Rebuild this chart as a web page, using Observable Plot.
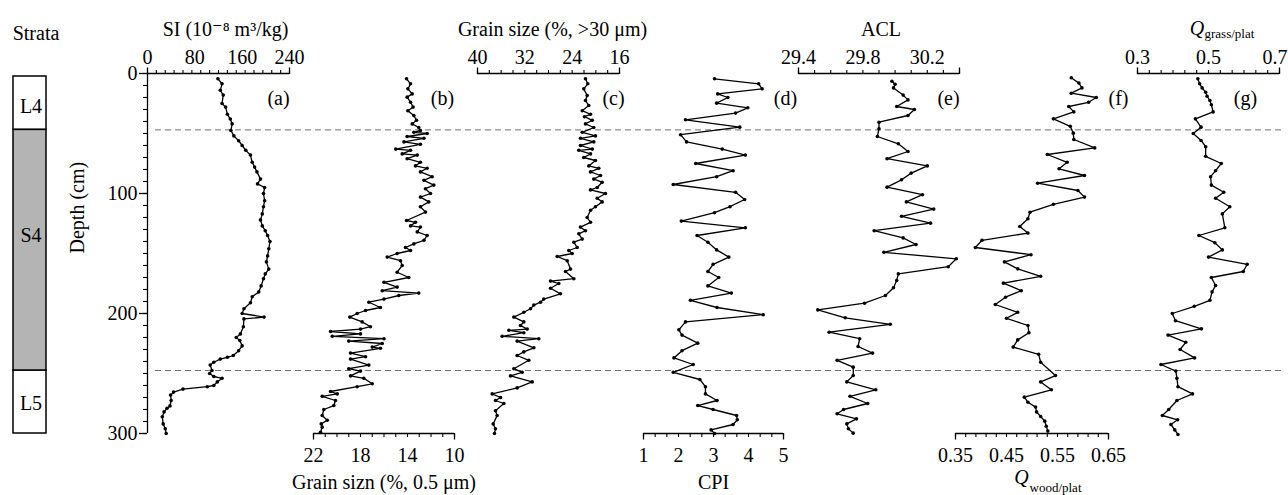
<!DOCTYPE html>
<html><head><meta charset="utf-8">
<script src="https://cdn.jsdelivr.net/npm/d3@7"></script>
<script src="https://cdn.jsdelivr.net/npm/@observablehq/plot@0.6"></script>
<style>
html,body{margin:0;padding:0;background:#fff;overflow:hidden;color:#000;}
#chart{position:relative;width:1288px;height:495px;}
#chart svg text, #chart svg tspan{font-family:"Liberation Serif","Times New Roman","DejaVu Serif",serif !important;}
</style></head><body><div id="chart"></div>
<script>
// ---------------- DATA ----------------
// strata column
const strataNames = ["L4", "S4", "L5"];
const strataTop = [2.5, 47, 247.5];
const strataBottom = [47, 247.5, 300];
const strataLabelDepth = [27.5, 135, 275];
const boundaryDepths = [47, 247.5];
const depthTicks = [0, 100, 200, 300];

// (a) SI
const siDepth = [4.4, 8.6, 14, 18, 25, 28, 34, 38, 42, 47.5,
  52, 56, 60, 64, 68, 74, 78, 82, 88, 92,
  95, 100, 106, 111, 117, 122, 127, 131, 135, 140,
  146, 152, 157, 163, 167, 171, 177, 182, 186, 191,
  196, 200, 203, 204.5, 211, 217, 220, 222.5, 227, 231,
  235, 236.5, 238, 240.6, 243, 247.5, 250, 252.5, 254, 257,
  260, 261, 263, 265.5, 268, 272.5, 277, 279, 282, 286,
  292, 296, 300];
const siValue = [119, 126, 123, 128, 126, 132, 135, 140, 143, 141,
  146, 154, 160, 166, 174, 177, 181, 185, 191, 186,
  198, 196, 198, 196, 194, 191, 194, 199, 203, 207,
  205, 203, 201, 205, 199, 196, 192, 188, 177, 174,
  163, 160, 197, 163, 162, 157, 150, 156, 160, 154,
  145, 135, 123, 112, 106, 109, 105, 112, 126, 118,
  112, 101, 60, 44, 39, 40, 38, 33, 28, 25,
  26.5, 30, 31.6];
const siTicks = [0, 80, 160, 240];

// (b) Grain size 0.5 um
const fineDepth = [4.4, 8.6, 12.8, 17, 19.7, 24, 28, 31, 35, 39,
  42, 45, 47.5, 49, 50, 52.5, 54, 57, 59, 63,
  64, 67, 68, 71, 74, 77, 79, 82, 86, 89,
  93, 96, 100, 103, 107, 111, 115.5, 122.5, 124, 127,
  128, 132, 135, 139, 142, 145, 147.5, 150, 153, 156,
  160, 165.6, 170, 174, 178, 181, 183, 185, 188, 190.6,
  195, 197.5, 200, 203, 207, 211, 213, 215, 217, 219,
  221, 223, 225, 228, 229, 233, 236, 238, 243, 246,
  248, 252, 254, 258.6, 261, 265, 267, 269, 272.5, 276.7,
  280, 285, 289, 292, 294.7, 299];
const fineValue = [14.08, 13.74, 13.97, 13.6, 14.03, 13.74, 13.52, 13.97, 13.46, 13.23,
  13.6, 13.04, 12.9, 13.46, 12.33, 14.03, 12.6, 14.3, 12.9, 15.0,
  13.74, 14.45, 13.17, 14.03, 12.9, 13.32, 12.33, 12.9, 11.9, 12.6,
  11.76, 12.47, 12.04, 12.9, 12.19, 12.9, 12.47, 14.08, 13.32, 13.74,
  12.9, 13.17, 12.33, 12.6, 13.46, 14.17, 13.74, 14.88, 15.73, 14.6,
  14.45, 14.88, 13.89, 16.0, 14.88, 16.15, 13.04, 14.74, 16.0, 17.29,
  16.3, 17.57, 18.28, 18.91, 17.86, 17.15, 18.0, 20.55, 18.0, 20.4,
  16.0, 19.0, 16.15, 17.0, 16.3, 18.85, 17.57, 18.85, 17.29, 19.0,
  18.0, 18.85, 17.72, 17.0, 18.28, 20.55, 19.98, 21.26, 20.13, 20.27,
  21.12, 21.26, 20.83, 21.34, 21.26, 21.4];
const fineTicks = [22, 18, 14, 10];

// (c) Grain size >30 um
const coarseDepth = [4.4, 8.6, 12.8, 18.3, 22.5, 26.7, 31, 34, 36, 39,
  42, 45, 49, 52, 54, 57, 60, 63, 64, 67,
  70, 72.5, 77, 79, 82, 85, 88, 90.6, 95, 97,
  100, 104, 107, 111, 114, 120, 124, 128, 131, 133.6,
  138, 140.6, 145, 147.5, 150, 152.5, 156, 163, 165, 171,
  173, 175, 179, 183.6, 188, 190.6, 193, 196, 199, 203,
  207, 210, 213, 214, 216, 219, 221, 223, 228.6, 232,
  235, 239, 246, 249, 252, 257, 262, 267, 270, 272.5,
  275, 281, 285, 292, 296, 300];
const coarseValue = [21.75, 21.36, 22.04, 21.46, 21.75, 21.19, 22.3, 20.9, 21.92, 20.6,
  21.75, 20.35, 22.3, 20.06, 22.6, 20.35, 22.6, 20.6, 22.88, 20.9,
  22.04, 20.06, 21.19, 19.5, 20.9, 19.2, 20.35, 18.93, 19.77, 20.9,
  18.37, 19.77, 18.93, 20.06, 20.9, 21.46, 20.9, 22.6, 21.75, 22.88,
  22.3, 23.72, 23.15, 24.57, 24.0, 26.53, 24.84, 24.28, 25.13, 23.72,
  27.66, 26.26, 27.66, 25.97, 28.8, 29.35, 30.48, 31.04, 32.17, 33.86,
  32.17, 32.73, 31.6, 34.7, 32.17, 35.83, 29.64, 33.3, 30.48, 32.17,
  33.3, 31.33, 33.86, 32.45, 34.42, 30.76, 33.3, 37.52, 36.1, 36.96,
  35.55, 36.96, 36.68, 37.35, 36.96, 37.13];
const coarseTicks = [40, 32, 24, 16];

// (d) CPI
const cpiDepth = [4.4, 8.6, 12.8, 17, 20, 24.7, 28.6, 33, 38.6, 44.7,
  51, 57, 63, 68, 75, 81, 86, 92.5, 99, 105,
  111, 116, 123, 128.6, 135, 140.6, 147, 153, 159, 165,
  170, 177, 183, 189, 195, 201, 207, 213.6, 218, 224.7,
  231, 237, 242.5, 249, 255, 261, 267, 272.5, 276.7, 280,
  285, 288.6, 292.5, 297, 300];
const cpiValue = [3.03, 4.29, 4.39, 3.12, 3.41, 3.09, 3.98, 3.63, 2.2, 3.75,
  2.06, 2.23, 3.25, 3.91, 2.49, 3.56, 3.09, 1.85, 3.63, 3.89,
  3.47, 3.03, 2.08, 3.91, 2.53, 2.84, 3.09, 3.44, 2.99, 2.84,
  3.15, 2.84, 3.51, 2.34, 3.1, 4.42, 2.2, 2.01, 2.1, 2.55,
  2.1, 1.87, 2.42, 1.85, 2.61, 2.77, 2.77, 3.1, 2.55, 2.99,
  3.66, 3.68, 3.56, 2.93, 3.03];
const cpiTicks = [1, 2, 3, 4, 5];

// (e) ACL
const aclDepth = [6.4, 9, 12, 18, 22, 27.5, 30, 35, 40.6, 46,
  52.5, 58.6, 65, 71, 77, 83, 88.6, 94.7, 101, 107,
  113, 119, 124.7, 131, 137, 142.5, 149, 154.4, 161, 167,
  172.5, 178.6, 185, 191.4, 197, 203.6, 209, 215.6, 221, 227.5,
  233, 239, 244.7, 251.7, 257, 263.6, 269, 275, 280, 283.6,
  287.8, 292, 296, 299.7];
const aclValue = [29.98, 30.0, 29.99, 30.05, 30.08, 30.01, 30.12, 30.08, 29.9, 29.9,
  29.89, 30.02, 30.08, 29.95, 30.2, 30.1, 30.04, 29.95, 30.17, 30.07,
  30.24, 30.04, 30.22, 29.87, 30.05, 30.13, 29.93, 30.38, 30.33, 30.02,
  30.01, 29.99, 29.94, 29.81, 29.52, 29.69, 29.97, 29.59, 29.78, 29.77,
  29.86, 29.64, 29.74, 29.74, 29.7, 29.88, 29.72, 29.83, 29.68, 29.64,
  29.76, 29.7, 29.71, 29.74];
const aclTicks = [29.4, 29.8, 30.2];

// (f) Q wood/plat
const woodDepth = [3.6, 8, 12, 16.4, 20, 24, 27.5, 32, 37.8, 44,
  49.7, 55, 62, 67.5, 74, 79.4, 85, 91.4, 97.5, 103,
  109, 115.6, 121, 127.5, 133, 139, 145, 151, 157, 162.8,
  169, 174.7, 181, 186.4, 192.5, 199, 204, 210, 216, 222,
  228, 234, 240.6, 251.7, 257, 263.6, 269.7, 274, 278, 282,
  285.8, 289.7, 294, 298];
const woodValue = [0.577, 0.592, 0.598, 0.577, 0.626, 0.611, 0.572, 0.582, 0.542, 0.575,
  0.581, 0.582, 0.623, 0.53, 0.569, 0.553, 0.603, 0.511, 0.59, 0.603,
  0.542, 0.496, 0.492, 0.476, 0.492, 0.402, 0.389, 0.498, 0.446, 0.472,
  0.517, 0.444, 0.479, 0.448, 0.428, 0.472, 0.45, 0.492, 0.494, 0.472,
  0.463, 0.513, 0.517, 0.546, 0.517, 0.538, 0.485, 0.492, 0.507, 0.509,
  0.517, 0.525, 0.528, 0.531];
const woodTicks = [0.35, 0.45, 0.55, 0.65];

// (g) Q grass/plat
const grassDepth = [4.4, 8.6, 12, 15.6, 19, 22.5, 26, 32, 37.8, 44.7,
  50, 55.8, 61, 69, 75, 81, 86, 93, 99, 104,
  111, 117, 128.6, 135, 141, 147, 153, 159, 165, 170,
  176.7, 182, 189, 194, 200, 206, 212.8, 218, 224, 230,
  237, 242.5, 248, 254, 261, 267, 272.5, 280, 285, 288.6,
  292.5, 297, 300.8];
const grassValue = [0.47, 0.475, 0.482, 0.492, 0.496, 0.504, 0.508, 0.513, 0.463, 0.479,
  0.457, 0.479, 0.492, 0.492, 0.536, 0.52, 0.506, 0.508, 0.543, 0.52,
  0.56, 0.539, 0.546, 0.473, 0.518, 0.539, 0.5, 0.609, 0.598, 0.508,
  0.52, 0.51, 0.504, 0.46, 0.398, 0.407, 0.48, 0.386, 0.436, 0.42,
  0.461, 0.366, 0.408, 0.411, 0.414, 0.455, 0.411, 0.388, 0.37, 0.413,
  0.394, 0.405, 0.414];
const grassTicks = [0.3, 0.5, 0.7];

// ---------------- LAYOUT ----------------
const W = 1288, H = 495, TOP = 73, BOTTOM = 433;
const FONT = "Liberation Serif";
const svgStyle = "position:absolute;left:0;top:0;overflow:visible;background:transparent;color:#000;";
const chart = document.getElementById("chart");
const yScale = {domain: [0, 300], reverse: true};

// text helper: serif 20px, vertically centred on its anchor
const T = (data, opts) => Plot.text(data, {fontFamily: FONT, fontSize: 20, lineAnchor: "middle", fill: "black", ...opts});

function draw(x0, x1, xOpts, yOpts, marks) {
  const svg = Plot.plot({
    width: W, height: H,
    marginLeft: x0, marginRight: W - x1, marginTop: TOP, marginBottom: H - BOTTOM,
    x: xOpts, y: {...yScale, ...yOpts},
    style: svgStyle,
    marks
  });
  chart.append(svg);
}

// dashed boundaries
draw(155, 1282, {domain: [0, 1], axis: null}, {axis: null}, [
  Plot.ruleY(boundaryDepths, {stroke: "#6e6e6e", strokeWidth: 1, strokeDasharray: "6,4"})
]);

// strata column
const strataIdx = strataNames.map((_, i) => i);
draw(13, 46, {domain: [0, 1], axis: null}, {axis: null}, [
  Plot.rect(strataIdx.filter(i => strataNames[i].startsWith("L")), {x1: 0, x2: 1, y1: i => strataTop[i], y2: i => strataBottom[i], fill: "white", stroke: "black", strokeWidth: 1.5}),
  Plot.rect(strataIdx.filter(i => strataNames[i].startsWith("S")), {x1: 0, x2: 1, y1: i => strataTop[i], y2: i => strataBottom[i], fill: "#b4b4b4", stroke: "black", strokeWidth: 1.5}),
  T(strataIdx, {x: 0.5, y: i => strataLabelDepth[i], text: i => strataNames[i], dx: 1}),
  T(["Strata"], {frameAnchor: "top", dx: 6, dy: -40})
]);

const panels = [
  {tag: "(a)", x0: 147, x1: 289, domain: [0, 240], step: 15, anchor: "top", ticks: siTicks, depth: siDepth, value: siValue, tagDx: -11, title: "SI (10⁻⁸ m³/kg)", titleDx: 7},
  {tag: "(b)", x0: 313, x1: 454, domain: [22, 10], step: 1, anchor: "bottom", ticks: fineTicks, depth: fineDepth, value: fineValue, tagDx: -12, title: "Grain sizn (%, 0.5 μm)", titleDx: 0},
  {tag: "(c)", x0: 477, x1: 619, domain: [40, 16], step: 2, anchor: "top", ticks: coarseTicks, depth: coarseDepth, value: coarseValue, tagDx: -6, title: "Grain size (%, >30 μm)", titleDx: 4},
  {tag: "(d)", x0: 643, x1: 783, domain: [1, 5], step: 1 / 3, anchor: "bottom", ticks: cpiTicks, depth: cpiDepth, value: cpiValue, tagDx: 2, title: "CPI", titleDx: 0},
  {tag: "(e)", x0: 798, x1: 959, domain: [29.4, 30.4], step: 0.1, anchor: "top", ticks: aclTicks, depth: aclDepth, value: aclValue, tagDx: -11, title: "ACL", titleDx: 2},
  {tag: "(f)", x0: 955, x1: 1108, domain: [0.35, 0.65], step: 0.02, anchor: "bottom", ticks: woodTicks, depth: woodDepth, value: woodValue, tagDx: 10, q: "wood/plat", qDx: -10.5, qDy: 44, subDx: -2.5, subDy: 54},
  {tag: "(g)", x0: 1137, x1: 1279, domain: [0.3, 0.7], step: 0.4 / 12, anchor: "top", ticks: grassTicks, depth: grassDepth, value: grassValue, tagDx: -34, q: "grass/plat", qDx: -11.5, qDy: -45, subDx: -4, subDy: -40, lastEnd: true}
];

panels.forEach((p, idx) => {
  const data = p.depth.map((d, i) => ({depth: d, value: p.value[i]}));
  const lo = Math.min(...p.domain), hi = Math.max(...p.domain);
  const n = Math.round((hi - lo) / p.step);
  const minor = d3.range(n + 1).map(k => lo + k * p.step);
  const top = p.anchor === "top";
  const tdy = top ? -16 : 22;
  const mainTicks = p.lastEnd ? p.ticks.slice(0, -1) : p.ticks;
  const marks = [
    Plot.ruleY([top ? 0 : 300], {stroke: "black", strokeWidth: 1.3}),
    Plot.axisX({anchor: p.anchor, ticks: minor, tickSize: 4, tickFormat: () => "", label: null, strokeWidth: 1.1}),
    Plot.axisX({anchor: p.anchor, ticks: [lo, hi], tickSize: 6.5, tickFormat: () => "", label: null, strokeWidth: 1.3}),
    T(mainTicks, {x: d => d, text: d => String(d), frameAnchor: p.anchor, dy: tdy}),
    Plot.line(data, {x: "value", y: "depth", stroke: "black", strokeWidth: 1.3}),
    Plot.dot(data, {x: "value", y: "depth", r: 1.8, fill: "black"}),
    T([p.tag], {frameAnchor: "top-right", dx: p.tagDx, dy: 25, textAnchor: "middle"})
  ];
  if (p.lastEnd) {
    marks.push(T(p.ticks.slice(-1), {x: d => d, text: d => String(d), frameAnchor: p.anchor, dy: tdy, textAnchor: "end", dx: 8}));
  }
  if (p.title) {
    marks.push(T([p.title], {frameAnchor: p.anchor, dx: p.titleDx, dy: top ? -44 : 49}));
  } else {
    marks.push(T(["Q"], {frameAnchor: p.anchor, dx: p.qDx, dy: p.qDy, fontStyle: "italic"}));
    marks.push(T([p.q], {frameAnchor: p.anchor, dx: p.subDx, dy: p.subDy, fontSize: 13, textAnchor: "start"}));
  }
  let yOpts = {axis: null};
  if (idx === 0) {
    yOpts = {};
    const depthMinor = d3.range(0, 31).map(k => k * 10);
    marks.push(
      Plot.ruleX([lo], {stroke: "black", strokeWidth: 1.3}),
      Plot.axisY({anchor: "left", ticks: depthMinor, tickSize: 4, tickFormat: () => "", label: null, strokeWidth: 1.1}),
      Plot.axisY({anchor: "left", ticks: depthTicks, tickSize: 8, tickFormat: () => "", label: null, strokeWidth: 1.3}),
      T(depthTicks, {y: d => d, text: d => String(d), frameAnchor: "left", dx: -10, textAnchor: "end"}),
      T(["Depth (cm)"], {frameAnchor: "left", dx: -70, rotate: -90})
    );
  }
  draw(p.x0, p.x1, {domain: p.domain, axis: null}, yOpts, marks);
});
</script>
</body></html>
